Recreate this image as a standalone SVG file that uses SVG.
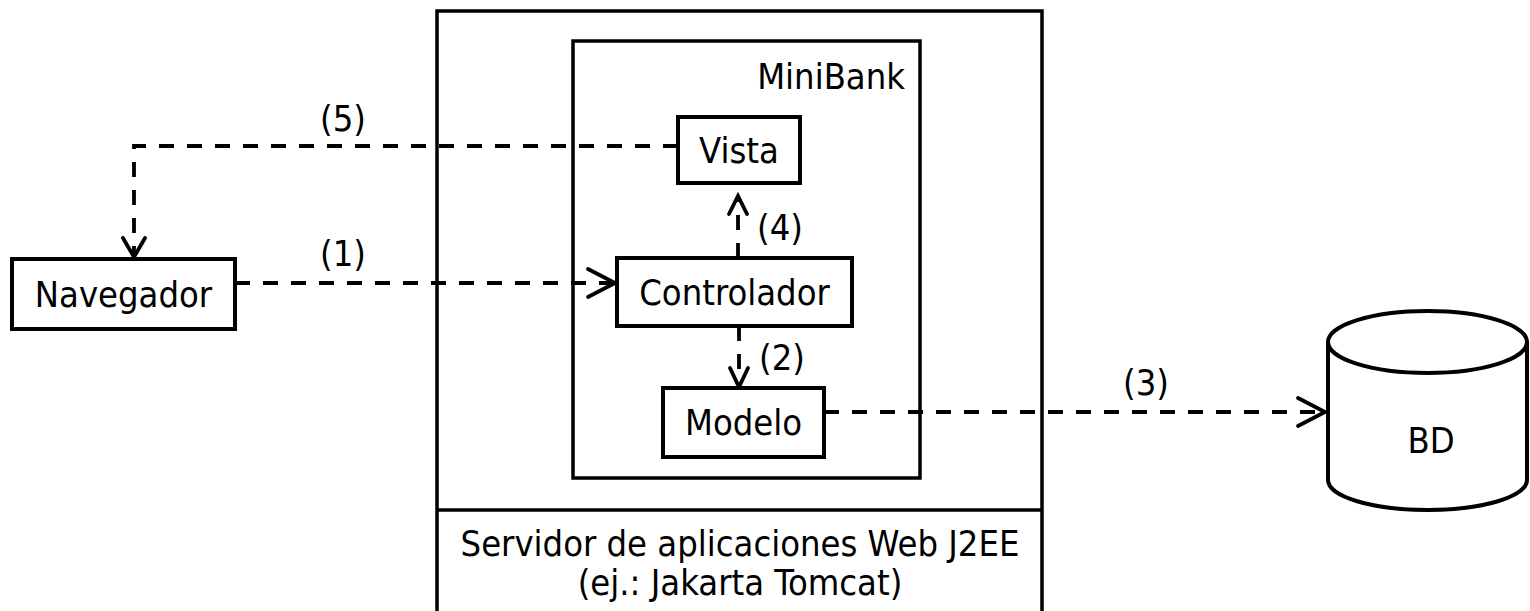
<svg xmlns="http://www.w3.org/2000/svg" width="1530" height="611" viewBox="0 0 1530 611">
<style>
  .box { fill: #fff; stroke: #000; stroke-width: 4; }
  .frame { fill: none; stroke: #000; stroke-width: 3.5; }
  .t { font-family: "DejaVu Sans Condensed", "DejaVu Sans", sans-serif; font-size: 36px; fill: #000; }
  .c { text-anchor: middle; }
  .dash { fill: none; stroke: #000; stroke-width: 3.8; stroke-dasharray: 15 13; }
  .head { fill: none; stroke: #000; stroke-width: 3.8; stroke-linecap: round; stroke-linejoin: miter; }
</style>
<rect width="1530" height="611" fill="#fff"/>
<g id="servidor">
  <rect class="frame" x="437" y="11" width="605" height="615"/>
  <line x1="437" y1="510" x2="1042" y2="510" stroke="#000" stroke-width="3.5"/>
  <text class="t c" x="740" y="556">Servidor de aplicaciones Web J2EE</text>
  <text class="t c" x="740" y="595">(ej.: Jakarta Tomcat)</text>
</g>
<g id="minibank">
  <rect class="frame" x="573" y="41" width="347" height="437"/>
  <text class="t" x="905" y="89" text-anchor="end">MiniBank</text>
</g>
<g id="connectors">
  <path class="dash" d="M678,146 H134 V257"/>
  <path class="head" d="M123,238 L134,257 L145,238"/>
  <text class="t c" x="343" y="131">(5)</text>
  <path class="dash" d="M235,283 H615"/>
  <path class="head" d="M588,269 L615,283 L588,297"/>
  <text class="t c" x="343" y="266">(1)</text>
  <path class="dash" d="M738,258 V197"/>
  <path class="head" d="M729,214 L738,196 L747,214"/>
  <text class="t c" x="780" y="240">(4)</text>
  <path class="dash" d="M739,326 V387"/>
  <path class="head" d="M730,368 L739,387 L748,368"/>
  <text class="t c" x="782" y="370">(2)</text>
  <path class="dash" d="M824,412 H1324"/>
  <path class="head" d="M1298,398 L1325,412 L1298,426"/>
  <text class="t c" x="1146" y="395">(3)</text>
</g>
<g id="navegador">
  <rect class="box" x="12" y="259" width="223" height="70"/>
  <text class="t c" x="123.5" y="307">Navegador</text>
</g>
<g id="vista">
  <rect class="box" x="678" y="117" width="122" height="66"/>
  <text class="t c" x="739" y="163">Vista</text>
</g>
<g id="controlador">
  <rect class="box" x="617" y="258" width="235" height="68"/>
  <text class="t c" x="734.5" y="305">Controlador</text>
</g>
<g id="modelo">
  <rect class="box" x="663" y="388" width="161" height="69"/>
  <text class="t c" x="743.5" y="435">Modelo</text>
</g>
<g id="bd">
  <path class="box" d="M1328,342 V480 A99.5,30 0 0 0 1527,480 V342"/>
  <ellipse class="box" cx="1427.5" cy="342" rx="99.5" ry="31"/>
  <text class="t c" x="1431" y="453">BD</text>
</g>
</svg>
